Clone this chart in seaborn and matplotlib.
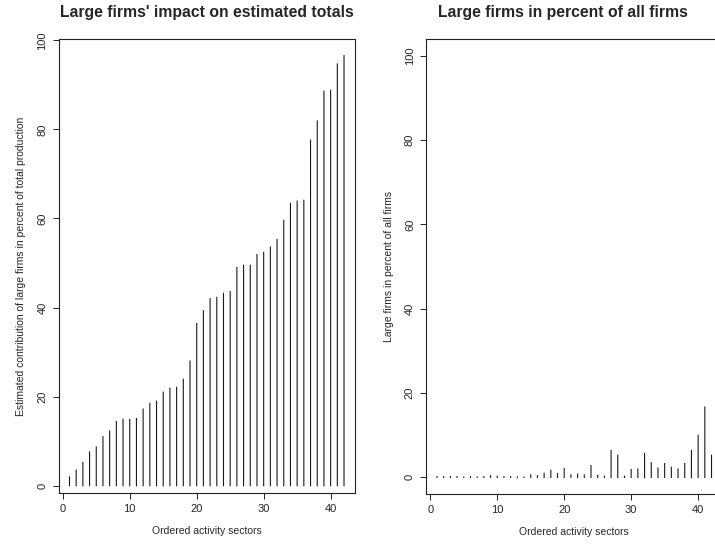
import numpy as np
import pandas as pd
import matplotlib
matplotlib.use("Agg")
import matplotlib.pyplot as plt
import seaborn as sns

# Datos (sectores ordenados 1..42)
sectors = list(range(1, 43))
impact = [2.0, 3.5, 5.2, 7.6, 8.7, 11.0, 12.3, 14.4, 14.9, 14.9,
          15.1, 17.2, 18.5, 19.0, 21.0, 21.9, 22.1, 23.9, 28.0, 36.4,
          39.3, 42.0, 42.3, 43.2, 43.6, 49.0, 49.5, 49.5, 51.9, 52.4,
          53.6, 55.3, 59.6, 63.4, 63.9, 64.1, 77.6, 81.9, 88.6, 88.8,
          94.7, 96.6]
share = [0.2, 0.2, 0.2, 0.2, 0.1, 0.2, 0.1, 0.2, 0.4, 0.3,
         0.2, 0.2, 0.1, 0.1, 0.6, 0.4, 1.0, 1.7, 0.9, 2.1,
         0.6, 0.8, 0.6, 2.8, 0.5, 0.3, 6.4, 5.3, 0.3, 1.9,
         2.0, 5.7, 3.5, 2.2, 3.3, 2.4, 2.0, 3.3, 6.4, 10.0,
         16.7, 5.3]

df = pd.DataFrame({"sector": sectors, "impact": impact, "share": share})

sns.set_style("ticks")
plt.rcParams["font.family"] = ["Liberation Sans", "DejaVu Sans"]

fig = plt.figure(figsize=(7.15, 5.49), dpi=100)
ax1 = fig.add_axes([58.5 / 715, 1 - 493.3 / 549, 296.5 / 715, (493.3 - 39) / 549])
ax2 = fig.add_axes([426 / 715, 1 - 494.3 / 549, 296.5 / 715, (494.3 - 39) / 549])

# Barras tipo "h" (lineas verticales desde 0)
for ax, col in [(ax1, "impact"), (ax2, "share")]:
    ax.vlines(df["sector"], 0, df[col], color="#1a1a1a", linewidth=0.8,
              capstyle="projecting", snap=False)
    ax.set_xlim(-0.64, 43.64)
    ax.set_xticks([0, 10, 20, 30, 40])
    ax.set_yticks([0, 20, 40, 60, 80, 100])
    ax.tick_params(labelsize=8, length=4.5, width=0.7, color="#222222")
    for lab in ax.get_yticklabels():
        lab.set_rotation(90)
        lab.set_va("center")
    for s in ax.spines.values():
        s.set_visible(True)
        s.set_linewidth(0.8)
        s.set_color("#222222")
    ax.set_xlabel("Ordered activity sectors", fontsize=7.5, labelpad=8)

ax1.set_ylim(-1.7, 100.3)
ax2.set_ylim(-4, 104)

ax1.set_ylabel("Estimated contribution of large firms in percent of total production",
               fontsize=7.5, labelpad=8)
ax2.set_ylabel("Large firms in percent of all firms", fontsize=7.5, labelpad=8)

ax1.set_title("Large firms' impact on estimated totals", fontsize=11.3,
              fontweight="bold", pad=15.5)
ax2.set_title("Large firms in percent of all firms", fontsize=11.3,
              fontweight="bold", pad=15.5, x=(563 - 426) / 296.5)

fig.savefig("out.png", dpi=100)
